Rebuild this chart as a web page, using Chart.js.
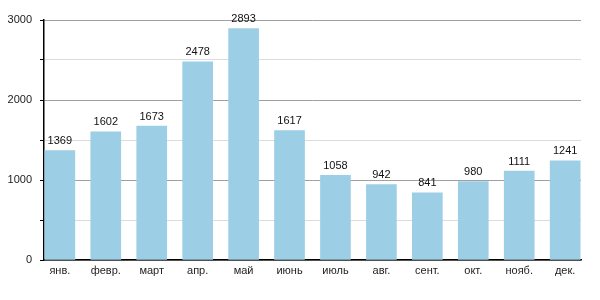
<!DOCTYPE html>
<html>
<head>
<meta charset="utf-8">
<script src="https://cdn.jsdelivr.net/npm/chart.js@4"></script>
<style>
  html, body { margin: 0; padding: 0; background: #fff; }
  #wrap { width: 600px; height: 300px; }
</style>
</head>
<body>
<div id="wrap"><canvas id="monthChart" width="600" height="300"></canvas></div>
<script>
// месяцы и значения
const months = ['янв.', 'февр.', 'март', 'апр.', 'май', 'июнь', 'июль', 'авг.', 'сент.', 'окт.', 'нояб.', 'дек.'];
const values = [1369, 1602, 1673, 2478, 2893, 1617, 1058, 942, 841, 980, 1111, 1241];
const yTicks = [0, 1000, 2000, 3000];

// подписи над столбцами
const valueLabels = {
    id: 'valueLabels',
    afterDatasetsDraw(chart) {
        const ctx = chart.ctx;
        const meta = chart.getDatasetMeta(0);
        ctx.save();
        ctx.font = '11px "Liberation Sans", Arial, sans-serif';
        ctx.fillStyle = '#111';
        ctx.textAlign = 'center';
        ctx.textBaseline = 'bottom';
        meta.data.forEach((bar, i) => {
            ctx.fillText(values[i], bar.x, bar.y - 4);
        });
        ctx.restore();
    }
};

const ctx = document.getElementById('monthChart').getContext('2d');
new Chart(ctx, {
    type: 'bar',
    data: {
        datasets: [{
            data: values.map((v, i) => ({ x: i, y: v })),
            backgroundColor: '#9ccee6',
            borderWidth: 0,
            barThickness: 30
        }]
    },
    options: {
        responsive: false,
        animation: false,
        layout: { padding: { top: 20, right: 19, left: 0, bottom: 0 } },
        plugins: {
            legend: { display: false },
            tooltip: { enabled: false }
        },
        scales: {
            x: {
                type: 'linear',
                offset: false,
                min: -0.345,
                max: 11.345,
                grid: { display: false, drawTicks: false, tickLength: 0 },
                border: { display: true, color: '#000', width: 1.5 },
                afterFit(scale) { scale.height = 40; },
                ticks: {
                    stepSize: 1,
                    includeBounds: false,
                    autoSkip: false,
                    maxRotation: 0,
                    padding: 4,
                    color: '#222',
                    font: { family: '"Liberation Sans", Arial, sans-serif', size: 11 },
                    callback: (v) => Number.isInteger(v) ? months[v] : ''
                }
            },
            y: {
                min: 0,
                max: 3000,
                border: { display: true, color: '#000', width: 1.5 },
                afterFit(scale) { scale.width = 44; },
                grid: {
                    color: (c) => (c.tick && c.tick.value % 1000 === 0) ? '#a0a0a0' : '#dcdcdc',
                    tickColor: '#000',
                    tickLength: 4,
                    lineWidth: 1
                },
                ticks: {
                    stepSize: 500,
                    autoSkip: false,
                    padding: 8,
                    color: '#222',
                    font: { family: '"Liberation Sans", Arial, sans-serif', size: 11 },
                    callback: (v) => yTicks.includes(v) ? v : ''
                }
            }
        }
    },
    plugins: [valueLabels]
});
</script>
</body>
</html>
